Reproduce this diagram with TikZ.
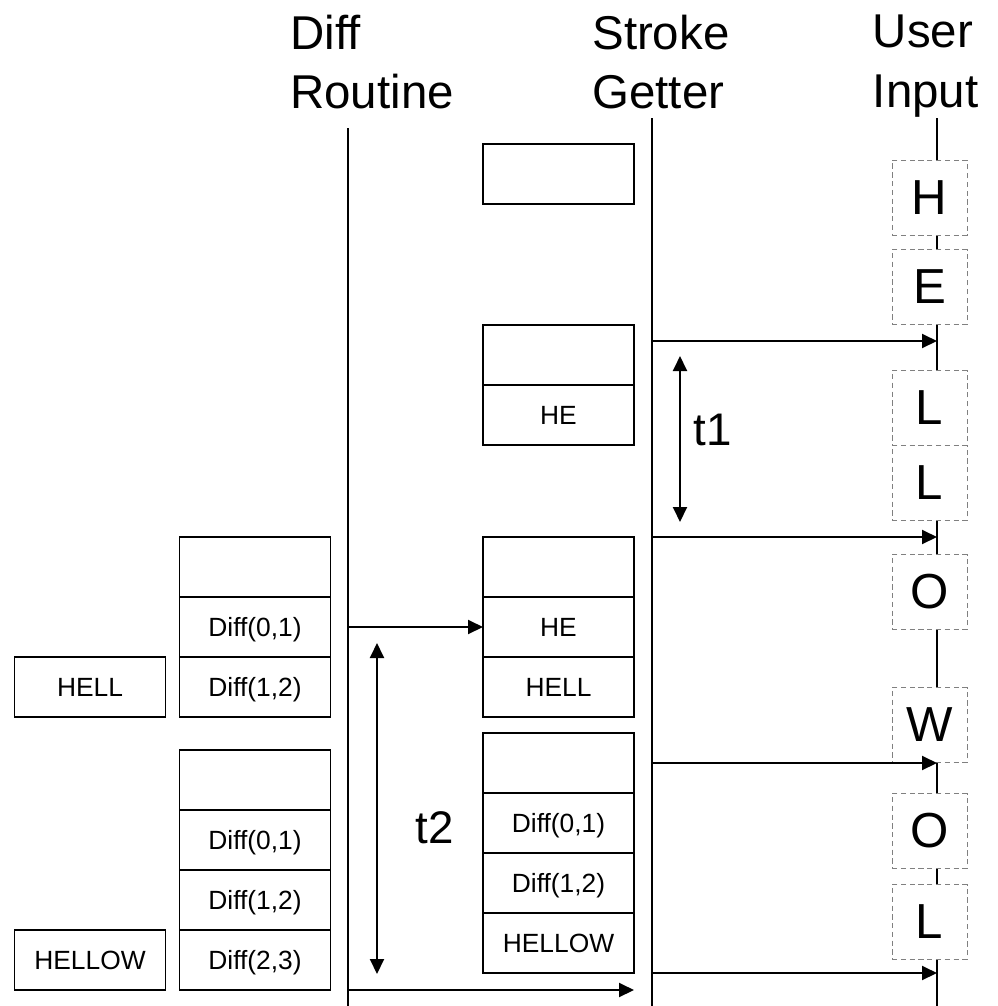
\documentclass[tikz,border=0pt]{standalone}
\usepackage{fontspec}
\setmainfont{Liberation Sans}
\usetikzlibrary{arrows.meta,positioning}

\begin{document}
\begin{tikzpicture}[
  cell/.style={draw,line width=1.1pt,minimum width=3.02cm,minimum height=1.2cm,inner sep=0pt,
    outer sep=0pt,text height=10.8pt,text depth=0pt,font=\fontsize{15}{17}\selectfont},
  key/.style={draw=gray,densely dashed,line width=0.5pt,fill=white,minimum width=1.5cm,
    minimum height=1.5cm,inner sep=0pt,outer sep=0pt,font=\fontsize{28}{30}\selectfont},
  head/.style={anchor=north west,inner sep=0pt,align=left,font=\fontsize{27}{33.6}\selectfont},
  life/.style={line width=1.1pt},
  msg/.style={-{Triangle[length=0.3cm,width=0.28cm]},line width=1.1pt},
  dur/.style={{Triangle[length=0.3cm,width=0.28cm]}-{Triangle[length=0.3cm,width=0.28cm]},line width=1.1pt}
]
  \useasboundingbox (0,0) rectangle (19.94,-20.12);

  % Headers
  \node[head] (drhead) at (5.8,-0.3) {Diff\\Routine};
  \node[head] (sghead) at (11.84,-0.3) {Stroke\\Getter};
  \node[head] (uihead) at (17.45,-0.3) {User\\Input};

  % Lifelines
  \coordinate (drtop) at (6.96,-2.56);
  \coordinate (drbot) at (6.96,-20.12);
  \coordinate (sgtop) at (13.04,-2.36);
  \coordinate (sgbot) at (13.04,-20.12);
  \coordinate (uitop) at (18.74,-2.36);
  \coordinate (uibot) at (18.74,-20.12);
  \draw[life] (drtop) -- (drbot);
  \draw[life] (sgtop) -- (sgbot);
  \draw[life] (uitop) -- (uibot);

  % User input keys
  \node[key] (kH) at (18.59,-3.95) {H};
  \node[key] (kE) at (18.59,-5.74) {E};
  \node[key] (kL1) at (18.59,-8.16) {L};
  \node[key,below=0pt of kL1] (kL2) {L};
  \node[key] (kO1) at (18.59,-11.84) {O};
  \node[key] (kW) at (18.59,-14.5) {W};
  \node[key] (kO2) at (18.59,-16.62) {O};
  \node[key] (kL3) at (18.59,-18.44) {L};

  % Stroke Getter buffers
  \node[cell] (sg1) at (11.17,-3.48) {};

  \node[cell] (sg2a) at (11.17,-7.1) {};
  \node[cell,below=0pt of sg2a] (sg2b) {HE};

  \node[cell] (sg3a) at (11.17,-11.34) {};
  \node[cell,below=0pt of sg3a] (sg3b) {HE};
  \node[cell,below=0pt of sg3b] (sg3c) {HELL};

  \node[cell] (sg4a) at (11.17,-15.26) {};
  \node[cell,below=0pt of sg4a] (sg4b) {Diff(0,1)};
  \node[cell,below=0pt of sg4b] (sg4c) {Diff(1,2)};
  \node[cell,below=0pt of sg4c] (sg4d) {HELLOW};

  % Diff Routine buffers
  \node[cell] (dA1) at (5.1,-11.34) {};
  \node[cell,below=0pt of dA1] (dA2) {Diff(0,1)};
  \node[cell,below=0pt of dA2] (dA3) {Diff(1,2)};
  \node[cell,left=0.28cm of dA3] (resA) {HELL};

  \node[cell] (dB1) at (5.1,-15.6) {};
  \node[cell,below=0pt of dB1] (dB2) {Diff(0,1)};
  \node[cell,below=0pt of dB2] (dB3) {Diff(1,2)};
  \node[cell,below=0pt of dB3] (dB4) {Diff(2,3)};
  \node[cell,left=0.28cm of dB4] (resB) {HELLOW};

  % Messages
  \coordinate (m1) at (0,-6.82);
  \draw[msg] (sgtop |- m1) -- (uitop |- m1);
  \draw[msg] (sg3a.north -| sgtop) -- (sg3a.north -| uitop);
  \draw[msg] (sg4a.center -| sgtop) -- (sg4a.center -| uitop);
  \draw[msg] (sg4d.south -| sgtop) -- (sg4d.south -| uitop);
  \draw[msg] (sg3b.west -| drtop) -- (sg3b.west);
  \draw[msg] (dB4.south -| drtop) -- (dB4.south -| sg4d.east);

  % Durations
  \coordinate (t1a) at (13.6,-7.12);
  \coordinate (t1b) at (13.6,-10.44);
  \draw[dur] (t1a) -- (t1b);
  \node[font=\fontsize{26}{30}\selectfont] (t1) at (14.25,-8.6) {t1};

  \coordinate (t2a) at (7.54,-12.86);
  \coordinate (t2b) at (7.54,-19.48);
  \draw[dur] (t2a) -- (t2b);
  \node[font=\fontsize{26}{30}\selectfont] (t2) at (8.7,-16.56) {t2};
\end{tikzpicture}
\end{document}
